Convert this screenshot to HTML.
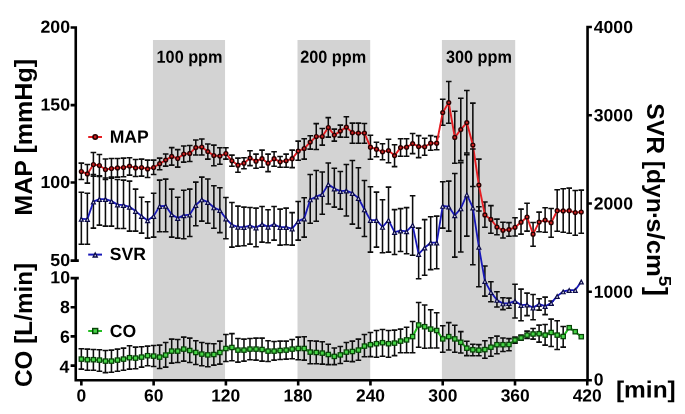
<!DOCTYPE html>
<html><head><meta charset="utf-8"><title>MAP, SVR and CO over time</title>
<style>
html,body{margin:0;padding:0;background:#fff;}
svg{display:block;will-change:transform;}
text{font-family:"Liberation Sans",sans-serif;font-weight:bold;fill:#000;}
</style></head>
<body>
<svg width="685" height="414" viewBox="0 0 685 414">
<rect width="685" height="414" fill="#fff"/>
<rect x="152.95" y="40" width="72.10" height="340.30" fill="#d3d3d3"/>
<rect x="297.50" y="40" width="72.70" height="340.30" fill="#d3d3d3"/>
<rect x="441.90" y="40" width="73.30" height="340.30" fill="#d3d3d3"/>
<path d="M81.35 163.10V179.50M78.55 163.10H84.15M78.55 179.50H84.15M87.37 164.50V183.10M84.57 164.50H90.17M84.57 183.10H90.17M93.40 152.40V176.10M90.60 152.40H96.20M90.60 176.10H96.20M99.42 154.40V176.50M96.62 154.40H102.22M96.62 176.50H102.22M105.44 159.00V179.50M102.64 159.00H108.24M102.64 179.50H108.24M111.46 158.50V178.10M108.66 158.50H114.26M108.66 178.10H114.26M117.49 158.50V177.10M114.69 158.50H120.29M114.69 177.10H120.29M123.51 158.10V176.70M120.71 158.10H126.31M120.71 176.70H126.31M129.53 157.70V175.10M126.73 157.70H132.33M126.73 175.10H132.33M135.56 159.50V176.50M132.76 159.50H138.36M132.76 176.50H138.36M141.58 159.10V176.10M138.78 159.10H144.38M138.78 176.10H144.38M147.60 160.10V177.50M144.80 160.10H150.40M144.80 177.50H150.40M153.63 160.10V174.50M150.83 160.10H156.43M150.83 174.50H156.43M159.65 158.10V169.70M156.85 158.10H162.45M156.85 169.70H162.45M165.67 154.00V166.10M162.87 154.00H168.47M162.87 166.10H168.47M171.69 147.60V165.10M168.89 147.60H174.50M168.89 165.10H174.50M177.72 149.60V167.10M174.92 149.60H180.52M174.92 167.10H180.52M183.74 146.00V162.10M180.94 146.00H186.54M180.94 162.10H186.54M189.76 145.40V161.50M186.96 145.40H192.56M186.96 161.50H192.56M195.79 140.00V155.00M192.99 140.00H198.59M192.99 155.00H198.59M201.81 139.00V155.00M199.01 139.00H204.61M199.01 155.00H204.61M207.83 144.00V159.10M205.03 144.00H210.63M205.03 159.10H210.63M213.86 145.10V165.80M211.06 145.10H216.66M211.06 165.80H216.66M219.88 147.70V164.20M217.08 147.70H222.68M217.08 164.20H222.68M225.90 147.70V159.10M223.10 147.70H228.70M223.10 159.10H228.70M231.92 155.10V166.20M229.12 155.10H234.72M229.12 166.20H234.72M237.95 158.10V172.20M235.15 158.10H240.75M235.15 172.20H240.75M243.97 157.70V168.80M241.17 157.70H246.77M241.17 168.80H246.77M249.99 150.70V165.60M247.19 150.70H252.79M247.19 165.60H252.79M256.02 154.10V168.20M253.22 154.10H258.82M253.22 168.20H258.82M262.04 150.10V167.20M259.24 150.10H264.84M259.24 167.20H264.84M268.06 154.10V171.60M265.26 154.10H270.86M265.26 171.60H270.86M274.09 151.70V166.20M271.29 151.70H276.89M271.29 166.20H276.89M280.11 156.50V167.20M277.31 156.50H282.91M277.31 167.20H282.91M286.13 154.10V167.20M283.33 154.10H288.93M283.33 167.20H288.93M292.15 150.10V167.60M289.35 150.10H294.95M289.35 167.60H294.95M298.18 141.10V160.20M295.38 141.10H300.98M295.38 160.20H300.98M304.20 138.70V159.10M301.40 138.70H307.00M301.40 159.10H307.00M310.22 135.70V149.10M307.42 135.70H313.02M307.42 149.10H313.02M316.25 123.60V149.50M313.45 123.60H319.05M313.45 149.50H319.05M322.27 128.50V145.10M319.47 128.50H325.07M319.47 145.10H325.07M328.29 117.60V137.10M325.49 117.60H331.09M325.49 137.10H331.09M334.32 129.10V141.10M331.52 129.10H337.12M331.52 141.10H337.12M340.34 125.10V137.10M337.54 125.10H343.14M337.54 137.10H343.14M346.36 116.70V137.20M343.56 116.70H349.16M343.56 137.20H349.16M352.38 123.10V143.20M349.58 123.10H355.19M349.58 143.20H355.19M358.41 123.10V143.20M355.61 123.10H361.21M355.61 143.20H361.21M364.43 123.50V143.20M361.63 123.50H367.23M361.63 143.20H367.23M370.45 135.20V159.20M367.65 135.20H373.25M367.65 159.20H373.25M376.48 142.20V156.80M373.68 142.20H379.28M373.68 156.80H379.28M382.50 143.80V159.80M379.70 143.80H385.30M379.70 159.80H385.30M388.52 139.20V162.80M385.72 139.20H391.32M385.72 162.80H391.32M394.55 144.80V166.60M391.75 144.80H397.35M391.75 166.60H397.35M400.57 138.80V156.20M397.77 138.80H403.37M397.77 156.20H403.37M406.59 138.80V156.20M403.79 138.80H409.39M403.79 156.20H409.39M412.62 133.50V153.60M409.81 133.50H415.42M409.81 153.60H415.42M418.64 135.60V157.60M415.84 135.60H421.44M415.84 157.60H421.44M424.66 138.20V155.20M421.86 138.20H427.46M421.86 155.20H427.46M430.68 135.60V150.20M427.88 135.60H433.48M427.88 150.20H433.48M436.71 136.60V149.80M433.91 136.60H439.51M433.91 149.80H439.51M442.73 99.20V125.20M439.93 99.20H445.53M439.93 125.20H445.53M448.75 81.50V123.20M445.95 81.50H451.55M445.95 123.20H451.55M454.78 111.20V163.30M451.98 111.20H457.58M451.98 163.30H457.58M460.80 98.30V160.60M458.00 98.30H463.60M458.00 160.60H463.60M466.82 90.50V153.00M464.02 90.50H469.62M464.02 153.00H469.62M472.85 103.10V186.50M470.05 103.10H475.65M470.05 186.50H475.65M478.87 159.10V211.00M476.07 159.10H481.67M476.07 211.00H481.67M484.89 202.00V227.30M482.09 202.00H487.69M482.09 227.30H487.69M490.91 205.60V233.20M488.11 205.60H493.71M488.11 233.20H493.71M496.94 219.10V234.70M494.14 219.10H499.74M494.14 234.70H499.74M502.96 222.20V238.00M500.16 222.20H505.76M500.16 238.00H505.76M508.98 222.60V236.20M506.18 222.60H511.78M506.18 236.20H511.78M515.01 217.70V236.00M512.21 217.70H517.81M512.21 236.00H517.81M521.03 209.10V234.10M518.23 209.10H523.83M518.23 234.10H523.83M527.05 203.20V231.10M524.25 203.20H529.85M524.25 231.10H529.85M533.07 222.50V246.20M530.27 222.50H535.87M530.27 246.20H535.87M539.10 212.10V231.80M536.30 212.10H541.90M536.30 231.80H541.90M545.12 207.70V232.20M542.32 207.70H547.92M542.32 232.20H547.92M551.14 208.50V237.20M548.34 208.50H553.94M548.34 237.20H553.94M557.17 189.70V231.20M554.37 189.70H559.97M554.37 231.20H559.97M563.19 188.80V232.20M560.39 188.80H565.99M560.39 232.20H565.99M569.21 188.10V233.20M566.41 188.10H572.01M566.41 233.20H572.01M575.24 190.50V235.20M572.44 190.50H578.04M572.44 235.20H578.04M581.26 190.10V233.20M578.46 190.10H584.06M578.46 233.20H584.06" stroke="#0c0c0c" stroke-width="1.55" fill="none"/>
<polyline points="81.35,171.50 87.37,173.90 93.40,164.50 99.42,165.50 105.44,169.50 111.46,168.50 117.49,167.90 123.51,167.50 129.53,166.10 135.56,167.90 141.58,167.50 147.60,168.90 153.63,167.50 159.65,163.70 165.67,160.10 171.69,156.40 177.72,158.50 183.74,154.00 189.76,153.40 195.79,147.60 201.81,147.00 207.83,151.60 213.86,155.50 219.88,156.10 225.90,153.50 231.92,160.80 237.95,165.20 243.97,163.20 249.99,158.10 256.02,161.20 262.04,158.70 268.06,163.20 274.09,158.70 280.11,161.80 286.13,160.80 292.15,158.70 298.18,151.10 304.20,148.50 310.22,142.10 316.25,136.50 322.27,136.50 328.29,127.50 334.32,135.10 340.34,131.10 346.36,127.10 352.38,132.70 358.41,133.10 364.43,133.10 370.45,147.20 376.48,149.20 382.50,151.80 388.52,150.60 394.55,155.60 400.57,147.60 406.59,147.20 412.62,143.60 418.64,146.60 424.66,146.80 430.68,143.20 436.71,143.20 442.73,112.60 448.75,102.60 454.78,137.40 460.80,129.60 466.82,122.60 472.85,145.00 478.87,185.10 484.89,214.90 490.91,219.40 496.94,227.00 502.96,230.30 508.98,229.60 515.01,227.30 521.03,222.20 527.05,217.00 533.07,234.20 539.10,222.10 545.12,220.10 551.14,222.70 557.17,210.70 563.19,210.90 569.21,210.70 575.24,212.60 581.26,212.00" stroke="#e61e23" stroke-width="1.9" fill="none" stroke-linejoin="round"/>
<circle cx="81.35" cy="171.50" r="1.9" fill="#cf2020" stroke="#280000" stroke-width="1.4"/>
<circle cx="87.37" cy="173.90" r="1.9" fill="#cf2020" stroke="#280000" stroke-width="1.4"/>
<circle cx="93.40" cy="164.50" r="1.9" fill="#cf2020" stroke="#280000" stroke-width="1.4"/>
<circle cx="99.42" cy="165.50" r="1.9" fill="#cf2020" stroke="#280000" stroke-width="1.4"/>
<circle cx="105.44" cy="169.50" r="1.9" fill="#cf2020" stroke="#280000" stroke-width="1.4"/>
<circle cx="111.46" cy="168.50" r="1.9" fill="#cf2020" stroke="#280000" stroke-width="1.4"/>
<circle cx="117.49" cy="167.90" r="1.9" fill="#cf2020" stroke="#280000" stroke-width="1.4"/>
<circle cx="123.51" cy="167.50" r="1.9" fill="#cf2020" stroke="#280000" stroke-width="1.4"/>
<circle cx="129.53" cy="166.10" r="1.9" fill="#cf2020" stroke="#280000" stroke-width="1.4"/>
<circle cx="135.56" cy="167.90" r="1.9" fill="#cf2020" stroke="#280000" stroke-width="1.4"/>
<circle cx="141.58" cy="167.50" r="1.9" fill="#cf2020" stroke="#280000" stroke-width="1.4"/>
<circle cx="147.60" cy="168.90" r="1.9" fill="#cf2020" stroke="#280000" stroke-width="1.4"/>
<circle cx="153.63" cy="167.50" r="1.9" fill="#cf2020" stroke="#280000" stroke-width="1.4"/>
<circle cx="159.65" cy="163.70" r="1.9" fill="#cf2020" stroke="#280000" stroke-width="1.4"/>
<circle cx="165.67" cy="160.10" r="1.9" fill="#cf2020" stroke="#280000" stroke-width="1.4"/>
<circle cx="171.69" cy="156.40" r="1.9" fill="#cf2020" stroke="#280000" stroke-width="1.4"/>
<circle cx="177.72" cy="158.50" r="1.9" fill="#cf2020" stroke="#280000" stroke-width="1.4"/>
<circle cx="183.74" cy="154.00" r="1.9" fill="#cf2020" stroke="#280000" stroke-width="1.4"/>
<circle cx="189.76" cy="153.40" r="1.9" fill="#cf2020" stroke="#280000" stroke-width="1.4"/>
<circle cx="195.79" cy="147.60" r="1.9" fill="#cf2020" stroke="#280000" stroke-width="1.4"/>
<circle cx="201.81" cy="147.00" r="1.9" fill="#cf2020" stroke="#280000" stroke-width="1.4"/>
<circle cx="207.83" cy="151.60" r="1.9" fill="#cf2020" stroke="#280000" stroke-width="1.4"/>
<circle cx="213.86" cy="155.50" r="1.9" fill="#cf2020" stroke="#280000" stroke-width="1.4"/>
<circle cx="219.88" cy="156.10" r="1.9" fill="#cf2020" stroke="#280000" stroke-width="1.4"/>
<circle cx="225.90" cy="153.50" r="1.9" fill="#cf2020" stroke="#280000" stroke-width="1.4"/>
<circle cx="231.92" cy="160.80" r="1.9" fill="#cf2020" stroke="#280000" stroke-width="1.4"/>
<circle cx="237.95" cy="165.20" r="1.9" fill="#cf2020" stroke="#280000" stroke-width="1.4"/>
<circle cx="243.97" cy="163.20" r="1.9" fill="#cf2020" stroke="#280000" stroke-width="1.4"/>
<circle cx="249.99" cy="158.10" r="1.9" fill="#cf2020" stroke="#280000" stroke-width="1.4"/>
<circle cx="256.02" cy="161.20" r="1.9" fill="#cf2020" stroke="#280000" stroke-width="1.4"/>
<circle cx="262.04" cy="158.70" r="1.9" fill="#cf2020" stroke="#280000" stroke-width="1.4"/>
<circle cx="268.06" cy="163.20" r="1.9" fill="#cf2020" stroke="#280000" stroke-width="1.4"/>
<circle cx="274.09" cy="158.70" r="1.9" fill="#cf2020" stroke="#280000" stroke-width="1.4"/>
<circle cx="280.11" cy="161.80" r="1.9" fill="#cf2020" stroke="#280000" stroke-width="1.4"/>
<circle cx="286.13" cy="160.80" r="1.9" fill="#cf2020" stroke="#280000" stroke-width="1.4"/>
<circle cx="292.15" cy="158.70" r="1.9" fill="#cf2020" stroke="#280000" stroke-width="1.4"/>
<circle cx="298.18" cy="151.10" r="1.9" fill="#cf2020" stroke="#280000" stroke-width="1.4"/>
<circle cx="304.20" cy="148.50" r="1.9" fill="#cf2020" stroke="#280000" stroke-width="1.4"/>
<circle cx="310.22" cy="142.10" r="1.9" fill="#cf2020" stroke="#280000" stroke-width="1.4"/>
<circle cx="316.25" cy="136.50" r="1.9" fill="#cf2020" stroke="#280000" stroke-width="1.4"/>
<circle cx="322.27" cy="136.50" r="1.9" fill="#cf2020" stroke="#280000" stroke-width="1.4"/>
<circle cx="328.29" cy="127.50" r="1.9" fill="#cf2020" stroke="#280000" stroke-width="1.4"/>
<circle cx="334.32" cy="135.10" r="1.9" fill="#cf2020" stroke="#280000" stroke-width="1.4"/>
<circle cx="340.34" cy="131.10" r="1.9" fill="#cf2020" stroke="#280000" stroke-width="1.4"/>
<circle cx="346.36" cy="127.10" r="1.9" fill="#cf2020" stroke="#280000" stroke-width="1.4"/>
<circle cx="352.38" cy="132.70" r="1.9" fill="#cf2020" stroke="#280000" stroke-width="1.4"/>
<circle cx="358.41" cy="133.10" r="1.9" fill="#cf2020" stroke="#280000" stroke-width="1.4"/>
<circle cx="364.43" cy="133.10" r="1.9" fill="#cf2020" stroke="#280000" stroke-width="1.4"/>
<circle cx="370.45" cy="147.20" r="1.9" fill="#cf2020" stroke="#280000" stroke-width="1.4"/>
<circle cx="376.48" cy="149.20" r="1.9" fill="#cf2020" stroke="#280000" stroke-width="1.4"/>
<circle cx="382.50" cy="151.80" r="1.9" fill="#cf2020" stroke="#280000" stroke-width="1.4"/>
<circle cx="388.52" cy="150.60" r="1.9" fill="#cf2020" stroke="#280000" stroke-width="1.4"/>
<circle cx="394.55" cy="155.60" r="1.9" fill="#cf2020" stroke="#280000" stroke-width="1.4"/>
<circle cx="400.57" cy="147.60" r="1.9" fill="#cf2020" stroke="#280000" stroke-width="1.4"/>
<circle cx="406.59" cy="147.20" r="1.9" fill="#cf2020" stroke="#280000" stroke-width="1.4"/>
<circle cx="412.62" cy="143.60" r="1.9" fill="#cf2020" stroke="#280000" stroke-width="1.4"/>
<circle cx="418.64" cy="146.60" r="1.9" fill="#cf2020" stroke="#280000" stroke-width="1.4"/>
<circle cx="424.66" cy="146.80" r="1.9" fill="#cf2020" stroke="#280000" stroke-width="1.4"/>
<circle cx="430.68" cy="143.20" r="1.9" fill="#cf2020" stroke="#280000" stroke-width="1.4"/>
<circle cx="436.71" cy="143.20" r="1.9" fill="#cf2020" stroke="#280000" stroke-width="1.4"/>
<circle cx="442.73" cy="112.60" r="1.9" fill="#cf2020" stroke="#280000" stroke-width="1.4"/>
<circle cx="448.75" cy="102.60" r="1.9" fill="#cf2020" stroke="#280000" stroke-width="1.4"/>
<circle cx="454.78" cy="137.40" r="1.9" fill="#cf2020" stroke="#280000" stroke-width="1.4"/>
<circle cx="460.80" cy="129.60" r="1.9" fill="#cf2020" stroke="#280000" stroke-width="1.4"/>
<circle cx="466.82" cy="122.60" r="1.9" fill="#cf2020" stroke="#280000" stroke-width="1.4"/>
<circle cx="472.85" cy="145.00" r="1.9" fill="#cf2020" stroke="#280000" stroke-width="1.4"/>
<circle cx="478.87" cy="185.10" r="1.9" fill="#cf2020" stroke="#280000" stroke-width="1.4"/>
<circle cx="484.89" cy="214.90" r="1.9" fill="#cf2020" stroke="#280000" stroke-width="1.4"/>
<circle cx="490.91" cy="219.40" r="1.9" fill="#cf2020" stroke="#280000" stroke-width="1.4"/>
<circle cx="496.94" cy="227.00" r="1.9" fill="#cf2020" stroke="#280000" stroke-width="1.4"/>
<circle cx="502.96" cy="230.30" r="1.9" fill="#cf2020" stroke="#280000" stroke-width="1.4"/>
<circle cx="508.98" cy="229.60" r="1.9" fill="#cf2020" stroke="#280000" stroke-width="1.4"/>
<circle cx="515.01" cy="227.30" r="1.9" fill="#cf2020" stroke="#280000" stroke-width="1.4"/>
<circle cx="521.03" cy="222.20" r="1.9" fill="#cf2020" stroke="#280000" stroke-width="1.4"/>
<circle cx="527.05" cy="217.00" r="1.9" fill="#cf2020" stroke="#280000" stroke-width="1.4"/>
<circle cx="533.07" cy="234.20" r="1.9" fill="#cf2020" stroke="#280000" stroke-width="1.4"/>
<circle cx="539.10" cy="222.10" r="1.9" fill="#cf2020" stroke="#280000" stroke-width="1.4"/>
<circle cx="545.12" cy="220.10" r="1.9" fill="#cf2020" stroke="#280000" stroke-width="1.4"/>
<circle cx="551.14" cy="222.70" r="1.9" fill="#cf2020" stroke="#280000" stroke-width="1.4"/>
<circle cx="557.17" cy="210.70" r="1.9" fill="#cf2020" stroke="#280000" stroke-width="1.4"/>
<circle cx="563.19" cy="210.90" r="1.9" fill="#cf2020" stroke="#280000" stroke-width="1.4"/>
<circle cx="569.21" cy="210.70" r="1.9" fill="#cf2020" stroke="#280000" stroke-width="1.4"/>
<circle cx="575.24" cy="212.60" r="1.9" fill="#cf2020" stroke="#280000" stroke-width="1.4"/>
<circle cx="581.26" cy="212.00" r="1.9" fill="#cf2020" stroke="#280000" stroke-width="1.4"/>
<path d="M81.35 192.30V244.20M78.55 192.30H84.15M78.55 244.20H84.15M87.37 193.20V244.20M84.57 193.20H90.17M84.57 244.20H90.17M93.40 174.50V228.10M90.60 174.50H96.20M90.60 228.10H96.20M99.42 175.70V225.10M96.62 175.70H102.22M96.62 225.10H102.22M105.44 178.00V226.10M102.64 178.00H108.24M102.64 226.10H108.24M111.46 177.10V226.10M108.66 177.10H114.26M108.66 226.10H114.26M117.49 179.50V228.50M114.69 179.50H120.29M114.69 228.50H120.29M123.51 180.10V228.50M120.71 180.10H126.31M120.71 228.50H126.31M129.53 181.10V231.10M126.73 181.10H132.33M126.73 231.10H132.33M135.56 189.10V231.10M132.76 189.10H138.36M132.76 231.10H138.36M141.58 197.20V233.10M138.78 197.20H144.38M138.78 233.10H144.38M147.60 201.80V238.10M144.80 201.80H150.40M144.80 238.10H150.40M153.63 193.20V237.10M150.83 193.20H156.43M150.83 237.10H156.43M159.65 180.10V231.70M156.85 180.10H162.45M156.85 231.70H162.45M165.67 179.10V231.70M162.87 179.10H168.47M162.87 231.70H168.47M171.69 189.10V237.10M168.89 189.10H174.50M168.89 237.10H174.50M177.72 197.20V238.10M174.92 197.20H180.52M174.92 238.10H180.52M183.74 190.20V238.70M180.94 190.20H186.54M180.94 238.70H186.54M189.76 189.10V236.50M186.96 189.10H192.56M186.96 236.50H192.56M195.79 182.10V225.70M192.99 182.10H198.59M192.99 225.70H198.59M201.81 177.10V221.10M199.01 177.10H204.61M199.01 221.10H204.61M207.83 179.00V223.20M205.03 179.00H210.63M205.03 223.20H210.63M213.86 185.70V228.20M211.06 185.70H216.66M211.06 228.20H216.66M219.88 187.70V232.60M217.08 187.70H222.68M217.08 232.60H222.68M225.90 197.50V238.70M223.10 197.50H228.70M223.10 238.70H228.70M231.92 202.50V247.10M229.12 202.50H234.72M229.12 247.10H234.72M237.95 206.10V246.10M235.15 206.10H240.75M235.15 246.10H240.75M243.97 207.10V245.70M241.17 207.10H246.77M241.17 245.70H246.77M249.99 207.50V244.10M247.19 207.50H252.79M247.19 244.10H252.79M256.02 208.10V246.70M253.22 208.10H258.82M253.22 246.70H258.82M262.04 206.50V242.10M259.24 206.50H264.84M259.24 242.10H264.84M268.06 209.70V242.70M265.26 209.70H270.86M265.26 242.70H270.86M274.09 206.50V240.10M271.29 206.50H276.89M271.29 240.10H276.89M280.11 209.10V245.10M277.31 209.10H282.91M277.31 245.10H282.91M286.13 208.10V244.70M283.33 208.10H288.93M283.33 244.70H288.93M292.15 212.60V245.10M289.35 212.60H294.95M289.35 245.10H294.95M298.18 201.50V240.10M295.38 201.50H300.98M295.38 240.10H300.98M304.20 197.70V237.10M301.40 197.70H307.00M301.40 237.10H307.00M310.22 174.40V223.20M307.42 174.40H313.02M307.42 223.20H313.02M316.25 170.40V221.20M313.45 170.40H319.05M313.45 221.20H319.05M322.27 172.00V214.20M319.47 172.00H325.07M319.47 214.20H325.07M328.29 163.00V204.00M325.49 163.00H331.09M325.49 204.00H331.09M334.32 168.20V207.10M331.52 168.20H337.12M331.52 207.10H337.12M340.34 171.50V209.10M337.54 171.50H343.14M337.54 209.10H343.14M346.36 164.40V216.00M343.56 164.40H349.16M343.56 216.00H349.16M352.38 160.40V224.10M349.58 160.40H355.19M349.58 224.10H355.19M358.41 167.70V228.10M355.61 167.70H361.21M355.61 228.10H361.21M364.43 180.50V236.50M361.63 180.50H367.23M361.63 236.50H367.23M370.45 186.70V252.10M367.65 186.70H373.25M367.65 252.10H373.25M376.48 192.10V247.10M373.68 192.10H379.28M373.68 247.10H379.28M382.50 199.70V252.70M379.70 199.70H385.30M379.70 252.70H385.30M388.52 187.10V252.10M385.72 187.10H391.32M385.72 252.10H391.32M394.55 209.60V254.50M391.75 209.60H397.35M391.75 254.50H397.35M400.57 208.60V251.50M397.77 208.60H403.37M397.77 251.50H403.37M406.59 207.60V253.70M403.79 207.60H409.39M403.79 253.70H409.39M412.62 195.70V255.20M409.81 195.70H415.42M409.81 255.20H415.42M418.64 228.10V278.80M415.84 228.10H421.44M415.84 278.80H421.44M424.66 219.60V275.20M421.86 219.60H427.46M421.86 275.20H427.46M430.68 216.70V269.60M427.88 216.70H433.48M427.88 269.60H433.48M436.71 216.10V268.80M433.91 216.10H439.51M433.91 268.80H439.51M442.73 181.70V228.10M439.93 181.70H445.53M439.93 228.10H445.53M448.75 181.10V231.10M445.95 181.10H451.55M445.95 231.10H451.55M454.78 173.50V257.10M451.98 173.50H457.58M451.98 257.10H457.58M460.80 162.60V252.00M458.00 162.60H463.60M458.00 252.00H463.60M466.82 154.60V236.10M464.02 154.60H469.62M464.02 236.10H469.62M472.85 149.00V264.80M470.05 149.00H475.65M470.05 264.80H475.65M478.87 206.70V286.80M476.07 206.70H481.67M476.07 286.80H481.67M484.89 265.90V296.10M482.09 265.90H487.69M482.09 296.10H487.69M490.91 281.70V301.70M488.11 281.70H493.71M488.11 301.70H493.71M496.94 291.70V307.00M494.14 291.70H499.74M494.14 307.00H499.74M502.96 297.70V309.60M500.16 297.70H505.76M500.16 309.60H505.76M508.98 298.10V308.30M506.18 298.10H511.78M506.18 308.30H511.78M515.01 284.20V318.00M512.21 284.20H517.81M512.21 318.00H517.81M521.03 289.10V320.80M518.23 289.10H523.83M518.23 320.80H523.83M527.05 293.10V315.60M524.25 293.10H529.85M524.25 315.60H529.85M533.07 294.50V319.80M530.27 294.50H535.87M530.27 319.80H535.87M539.10 298.70V310.10M536.30 298.70H541.90M536.30 310.10H541.90M545.12 297.10V314.60M542.32 297.10H547.92M542.32 314.60H547.92M551.14 301.00V305.20M548.34 301.00H553.94M548.34 305.20H553.94" stroke="#0c0c0c" stroke-width="1.55" fill="none"/>
<polyline points="81.35,218.90 87.37,219.10 93.40,201.70 99.42,199.10 105.44,199.20 111.46,201.10 117.49,204.60 123.51,205.10 129.53,206.80 135.56,211.10 141.58,216.10 147.60,220.40 153.63,216.10 159.65,206.10 165.67,205.90 171.69,214.40 177.72,218.10 183.74,215.40 189.76,214.60 195.79,205.10 201.81,199.50 207.83,202.10 213.86,207.50 219.88,210.20 225.90,218.60 231.92,224.80 237.95,226.80 243.97,227.20 249.99,225.60 256.02,227.60 262.04,224.20 268.06,226.80 274.09,224.20 280.11,227.20 286.13,227.20 292.15,228.60 298.18,221.20 304.20,218.60 310.22,199.50 316.25,196.70 322.27,194.10 328.29,184.30 334.32,188.60 340.34,191.10 346.36,190.70 352.38,193.10 358.41,198.10 364.43,209.50 370.45,220.10 376.48,220.10 382.50,227.00 388.52,220.10 394.55,232.20 400.57,230.70 406.59,231.40 412.62,225.10 418.64,254.10 424.66,247.70 430.68,242.70 436.71,242.70 442.73,206.00 448.75,206.70 454.78,215.40 460.80,208.50 466.82,194.60 472.85,207.70 478.87,246.90 484.89,281.10 490.91,292.10 496.94,300.00 502.96,303.50 508.98,303.20 515.01,301.10 521.03,305.10 527.05,304.70 533.07,307.60 539.10,304.10 545.12,306.20 551.14,303.10 557.17,296.10 563.19,291.50 569.21,290.10 575.24,290.10 581.26,281.70" stroke="#1818b8" stroke-width="1.8" fill="none" stroke-linejoin="round"/>
<path d="M81.35 216.05L84.30 221.75H78.40Z" fill="#0a0a46"/><path d="M81.35 218.66L82.33 220.55H80.37Z" fill="#e6e6fa"/>
<path d="M87.37 216.25L90.32 221.95H84.42Z" fill="#0a0a46"/><path d="M87.37 218.86L88.35 220.75H86.40Z" fill="#e6e6fa"/>
<path d="M93.40 198.85L96.35 204.55H90.45Z" fill="#0a0a46"/><path d="M93.40 201.46L94.37 203.35H92.42Z" fill="#e6e6fa"/>
<path d="M99.42 196.25L102.37 201.95H96.47Z" fill="#0a0a46"/><path d="M99.42 198.86L100.40 200.75H98.44Z" fill="#e6e6fa"/>
<path d="M105.44 196.35L108.39 202.05H102.49Z" fill="#0a0a46"/><path d="M105.44 198.96L106.42 200.85H104.46Z" fill="#e6e6fa"/>
<path d="M111.46 198.25L114.41 203.95H108.51Z" fill="#0a0a46"/><path d="M111.46 200.86L112.44 202.75H110.49Z" fill="#e6e6fa"/>
<path d="M117.49 201.75L120.44 207.45H114.54Z" fill="#0a0a46"/><path d="M117.49 204.36L118.47 206.25H116.51Z" fill="#e6e6fa"/>
<path d="M123.51 202.25L126.46 207.95H120.56Z" fill="#0a0a46"/><path d="M123.51 204.86L124.49 206.75H122.53Z" fill="#e6e6fa"/>
<path d="M129.53 203.95L132.48 209.65H126.58Z" fill="#0a0a46"/><path d="M129.53 206.56L130.51 208.45H128.56Z" fill="#e6e6fa"/>
<path d="M135.56 208.25L138.51 213.95H132.61Z" fill="#0a0a46"/><path d="M135.56 210.86L136.53 212.75H134.58Z" fill="#e6e6fa"/>
<path d="M141.58 213.25L144.53 218.95H138.63Z" fill="#0a0a46"/><path d="M141.58 215.86L142.56 217.75H140.60Z" fill="#e6e6fa"/>
<path d="M147.60 217.55L150.55 223.25H144.65Z" fill="#0a0a46"/><path d="M147.60 220.16L148.58 222.05H146.63Z" fill="#e6e6fa"/>
<path d="M153.63 213.25L156.58 218.95H150.68Z" fill="#0a0a46"/><path d="M153.63 215.86L154.60 217.75H152.65Z" fill="#e6e6fa"/>
<path d="M159.65 203.25L162.60 208.95H156.70Z" fill="#0a0a46"/><path d="M159.65 205.86L160.63 207.75H158.67Z" fill="#e6e6fa"/>
<path d="M165.67 203.05L168.62 208.75H162.72Z" fill="#0a0a46"/><path d="M165.67 205.66L166.65 207.55H164.69Z" fill="#e6e6fa"/>
<path d="M171.69 211.55L174.64 217.25H168.75Z" fill="#0a0a46"/><path d="M171.69 214.16L172.67 216.05H170.72Z" fill="#e6e6fa"/>
<path d="M177.72 215.25L180.67 220.95H174.77Z" fill="#0a0a46"/><path d="M177.72 217.86L178.70 219.75H176.74Z" fill="#e6e6fa"/>
<path d="M183.74 212.55L186.69 218.25H180.79Z" fill="#0a0a46"/><path d="M183.74 215.16L184.72 217.05H182.76Z" fill="#e6e6fa"/>
<path d="M189.76 211.75L192.71 217.45H186.81Z" fill="#0a0a46"/><path d="M189.76 214.36L190.74 216.25H188.79Z" fill="#e6e6fa"/>
<path d="M195.79 202.25L198.74 207.95H192.84Z" fill="#0a0a46"/><path d="M195.79 204.86L196.76 206.75H194.81Z" fill="#e6e6fa"/>
<path d="M201.81 196.65L204.76 202.35H198.86Z" fill="#0a0a46"/><path d="M201.81 199.26L202.79 201.15H200.83Z" fill="#e6e6fa"/>
<path d="M207.83 199.25L210.78 204.95H204.88Z" fill="#0a0a46"/><path d="M207.83 201.86L208.81 203.75H206.86Z" fill="#e6e6fa"/>
<path d="M213.86 204.65L216.81 210.35H210.91Z" fill="#0a0a46"/><path d="M213.86 207.26L214.83 209.15H212.88Z" fill="#e6e6fa"/>
<path d="M219.88 207.35L222.83 213.05H216.93Z" fill="#0a0a46"/><path d="M219.88 209.96L220.86 211.85H218.90Z" fill="#e6e6fa"/>
<path d="M225.90 215.75L228.85 221.45H222.95Z" fill="#0a0a46"/><path d="M225.90 218.36L226.88 220.25H224.92Z" fill="#e6e6fa"/>
<path d="M231.92 221.95L234.87 227.65H228.97Z" fill="#0a0a46"/><path d="M231.92 224.56L232.90 226.45H230.95Z" fill="#e6e6fa"/>
<path d="M237.95 223.95L240.90 229.65H235.00Z" fill="#0a0a46"/><path d="M237.95 226.56L238.93 228.45H236.97Z" fill="#e6e6fa"/>
<path d="M243.97 224.35L246.92 230.05H241.02Z" fill="#0a0a46"/><path d="M243.97 226.96L244.95 228.85H242.99Z" fill="#e6e6fa"/>
<path d="M249.99 222.75L252.94 228.45H247.04Z" fill="#0a0a46"/><path d="M249.99 225.36L250.97 227.25H249.02Z" fill="#e6e6fa"/>
<path d="M256.02 224.75L258.97 230.45H253.07Z" fill="#0a0a46"/><path d="M256.02 227.36L256.99 229.25H255.04Z" fill="#e6e6fa"/>
<path d="M262.04 221.35L264.99 227.05H259.09Z" fill="#0a0a46"/><path d="M262.04 223.96L263.02 225.85H261.06Z" fill="#e6e6fa"/>
<path d="M268.06 223.95L271.01 229.65H265.11Z" fill="#0a0a46"/><path d="M268.06 226.56L269.04 228.45H267.09Z" fill="#e6e6fa"/>
<path d="M274.09 221.35L277.04 227.05H271.14Z" fill="#0a0a46"/><path d="M274.09 223.96L275.06 225.85H273.11Z" fill="#e6e6fa"/>
<path d="M280.11 224.35L283.06 230.05H277.16Z" fill="#0a0a46"/><path d="M280.11 226.96L281.09 228.85H279.13Z" fill="#e6e6fa"/>
<path d="M286.13 224.35L289.08 230.05H283.18Z" fill="#0a0a46"/><path d="M286.13 226.96L287.11 228.85H285.15Z" fill="#e6e6fa"/>
<path d="M292.15 225.75L295.10 231.45H289.20Z" fill="#0a0a46"/><path d="M292.15 228.36L293.13 230.25H291.18Z" fill="#e6e6fa"/>
<path d="M298.18 218.35L301.13 224.05H295.23Z" fill="#0a0a46"/><path d="M298.18 220.96L299.16 222.85H297.20Z" fill="#e6e6fa"/>
<path d="M304.20 215.75L307.15 221.45H301.25Z" fill="#0a0a46"/><path d="M304.20 218.36L305.18 220.25H303.22Z" fill="#e6e6fa"/>
<path d="M310.22 196.65L313.17 202.35H307.27Z" fill="#0a0a46"/><path d="M310.22 199.26L311.20 201.15H309.25Z" fill="#e6e6fa"/>
<path d="M316.25 193.85L319.20 199.55H313.30Z" fill="#0a0a46"/><path d="M316.25 196.46L317.22 198.35H315.27Z" fill="#e6e6fa"/>
<path d="M322.27 191.25L325.22 196.95H319.32Z" fill="#0a0a46"/><path d="M322.27 193.86L323.25 195.75H321.29Z" fill="#e6e6fa"/>
<path d="M328.29 181.45L331.24 187.15H325.34Z" fill="#0a0a46"/><path d="M328.29 184.06L329.27 185.95H327.32Z" fill="#e6e6fa"/>
<path d="M334.32 185.75L337.27 191.45H331.37Z" fill="#0a0a46"/><path d="M334.32 188.36L335.29 190.25H333.34Z" fill="#e6e6fa"/>
<path d="M340.34 188.25L343.29 193.95H337.39Z" fill="#0a0a46"/><path d="M340.34 190.86L341.32 192.75H339.36Z" fill="#e6e6fa"/>
<path d="M346.36 187.85L349.31 193.55H343.41Z" fill="#0a0a46"/><path d="M346.36 190.46L347.34 192.35H345.38Z" fill="#e6e6fa"/>
<path d="M352.38 190.25L355.33 195.95H349.44Z" fill="#0a0a46"/><path d="M352.38 192.86L353.36 194.75H351.41Z" fill="#e6e6fa"/>
<path d="M358.41 195.25L361.36 200.95H355.46Z" fill="#0a0a46"/><path d="M358.41 197.86L359.39 199.75H357.43Z" fill="#e6e6fa"/>
<path d="M364.43 206.65L367.38 212.35H361.48Z" fill="#0a0a46"/><path d="M364.43 209.26L365.41 211.15H363.45Z" fill="#e6e6fa"/>
<path d="M370.45 217.25L373.40 222.95H367.50Z" fill="#0a0a46"/><path d="M370.45 219.86L371.43 221.75H369.48Z" fill="#e6e6fa"/>
<path d="M376.48 217.25L379.43 222.95H373.53Z" fill="#0a0a46"/><path d="M376.48 219.86L377.45 221.75H375.50Z" fill="#e6e6fa"/>
<path d="M382.50 224.15L385.45 229.85H379.55Z" fill="#0a0a46"/><path d="M382.50 226.76L383.48 228.65H381.52Z" fill="#e6e6fa"/>
<path d="M388.52 217.25L391.47 222.95H385.57Z" fill="#0a0a46"/><path d="M388.52 219.86L389.50 221.75H387.55Z" fill="#e6e6fa"/>
<path d="M394.55 229.35L397.50 235.05H391.60Z" fill="#0a0a46"/><path d="M394.55 231.96L395.52 233.85H393.57Z" fill="#e6e6fa"/>
<path d="M400.57 227.85L403.52 233.55H397.62Z" fill="#0a0a46"/><path d="M400.57 230.46L401.55 232.35H399.59Z" fill="#e6e6fa"/>
<path d="M406.59 228.55L409.54 234.25H403.64Z" fill="#0a0a46"/><path d="M406.59 231.16L407.57 233.05H405.61Z" fill="#e6e6fa"/>
<path d="M412.62 222.25L415.56 227.95H409.67Z" fill="#0a0a46"/><path d="M412.62 224.86L413.59 226.75H411.64Z" fill="#e6e6fa"/>
<path d="M418.64 251.25L421.59 256.95H415.69Z" fill="#0a0a46"/><path d="M418.64 253.86L419.62 255.75H417.66Z" fill="#e6e6fa"/>
<path d="M424.66 244.85L427.61 250.55H421.71Z" fill="#0a0a46"/><path d="M424.66 247.46L425.64 249.35H423.68Z" fill="#e6e6fa"/>
<path d="M430.68 239.85L433.63 245.55H427.73Z" fill="#0a0a46"/><path d="M430.68 242.46L431.66 244.35H429.71Z" fill="#e6e6fa"/>
<path d="M436.71 239.85L439.66 245.55H433.76Z" fill="#0a0a46"/><path d="M436.71 242.46L437.68 244.35H435.73Z" fill="#e6e6fa"/>
<path d="M442.73 203.15L445.68 208.85H439.78Z" fill="#0a0a46"/><path d="M442.73 205.76L443.71 207.65H441.75Z" fill="#e6e6fa"/>
<path d="M448.75 203.85L451.70 209.55H445.80Z" fill="#0a0a46"/><path d="M448.75 206.46L449.73 208.35H447.78Z" fill="#e6e6fa"/>
<path d="M454.78 212.55L457.73 218.25H451.83Z" fill="#0a0a46"/><path d="M454.78 215.16L455.75 217.05H453.80Z" fill="#e6e6fa"/>
<path d="M460.80 205.65L463.75 211.35H457.85Z" fill="#0a0a46"/><path d="M460.80 208.26L461.78 210.15H459.82Z" fill="#e6e6fa"/>
<path d="M466.82 191.75L469.77 197.45H463.87Z" fill="#0a0a46"/><path d="M466.82 194.36L467.80 196.25H465.84Z" fill="#e6e6fa"/>
<path d="M472.85 204.85L475.80 210.55H469.90Z" fill="#0a0a46"/><path d="M472.85 207.46L473.82 209.35H471.87Z" fill="#e6e6fa"/>
<path d="M478.87 244.05L481.82 249.75H475.92Z" fill="#0a0a46"/><path d="M478.87 246.66L479.85 248.55H477.89Z" fill="#e6e6fa"/>
<path d="M484.89 278.25L487.84 283.95H481.94Z" fill="#0a0a46"/><path d="M484.89 280.86L485.87 282.75H483.91Z" fill="#e6e6fa"/>
<path d="M490.91 289.25L493.86 294.95H487.96Z" fill="#0a0a46"/><path d="M490.91 291.86L491.89 293.75H489.94Z" fill="#e6e6fa"/>
<path d="M496.94 297.15L499.89 302.85H493.99Z" fill="#0a0a46"/><path d="M496.94 299.76L497.91 301.65H495.96Z" fill="#e6e6fa"/>
<path d="M502.96 300.65L505.91 306.35H500.01Z" fill="#0a0a46"/><path d="M502.96 303.26L503.94 305.15H501.98Z" fill="#e6e6fa"/>
<path d="M508.98 300.35L511.93 306.05H506.03Z" fill="#0a0a46"/><path d="M508.98 302.96L509.96 304.85H508.01Z" fill="#e6e6fa"/>
<path d="M515.01 298.25L517.96 303.95H512.06Z" fill="#0a0a46"/><path d="M515.01 300.86L515.98 302.75H514.03Z" fill="#e6e6fa"/>
<path d="M521.03 302.25L523.98 307.95H518.08Z" fill="#0a0a46"/><path d="M521.03 304.86L522.01 306.75H520.05Z" fill="#e6e6fa"/>
<path d="M527.05 301.85L530.00 307.55H524.10Z" fill="#0a0a46"/><path d="M527.05 304.46L528.03 306.35H526.07Z" fill="#e6e6fa"/>
<path d="M533.07 304.75L536.02 310.45H530.12Z" fill="#0a0a46"/><path d="M533.07 307.36L534.05 309.25H532.10Z" fill="#e6e6fa"/>
<path d="M539.10 301.25L542.05 306.95H536.15Z" fill="#0a0a46"/><path d="M539.10 303.86L540.08 305.75H538.12Z" fill="#e6e6fa"/>
<path d="M545.12 303.35L548.07 309.05H542.17Z" fill="#0a0a46"/><path d="M545.12 305.96L546.10 307.85H544.14Z" fill="#e6e6fa"/>
<path d="M551.14 300.25L554.09 305.95H548.19Z" fill="#0a0a46"/><path d="M551.14 302.86L552.12 304.75H550.17Z" fill="#e6e6fa"/>
<path d="M557.17 293.25L560.12 298.95H554.22Z" fill="#0a0a46"/><path d="M557.17 295.86L558.14 297.75H556.19Z" fill="#e6e6fa"/>
<path d="M563.19 288.65L566.14 294.35H560.24Z" fill="#0a0a46"/><path d="M563.19 291.26L564.17 293.15H562.21Z" fill="#e6e6fa"/>
<path d="M569.21 287.25L572.16 292.95H566.26Z" fill="#0a0a46"/><path d="M569.21 289.86L570.19 291.75H568.24Z" fill="#e6e6fa"/>
<path d="M575.24 287.25L578.19 292.95H572.29Z" fill="#0a0a46"/><path d="M575.24 289.86L576.21 291.75H574.26Z" fill="#e6e6fa"/>
<path d="M581.26 278.85L584.21 284.55H578.31Z" fill="#0a0a46"/><path d="M581.26 281.46L582.24 283.35H580.28Z" fill="#e6e6fa"/>
<path d="M81.35 348.70V369.10M78.55 348.70H84.15M78.55 369.10H84.15M87.37 349.10V370.20M84.57 349.10H90.17M84.57 370.20H90.17M93.40 349.50V370.20M90.60 349.50H96.20M90.60 370.20H96.20M99.42 349.70V371.20M96.62 349.70H102.22M96.62 371.20H102.22M105.44 350.50V372.60M102.64 350.50H108.24M102.64 372.60H108.24M111.46 350.10V372.20M108.66 350.10H114.26M108.66 372.20H114.26M117.49 349.10V371.20M114.69 349.10H120.29M114.69 371.20H120.29M123.51 348.10V370.20M120.71 348.10H126.31M120.71 370.20H126.31M129.53 345.70V369.10M126.73 345.70H132.33M126.73 369.10H132.33M135.56 347.10V368.70M132.76 347.10H138.36M132.76 368.70H138.36M141.58 346.70V367.10M138.78 346.70H144.38M138.78 367.10H144.38M147.60 346.10V365.70M144.80 346.10H150.40M144.80 365.70H150.40M153.63 345.50V366.50M150.83 345.50H156.43M150.83 366.50H156.43M159.65 345.10V368.50M156.85 345.10H162.45M156.85 368.50H162.45M165.67 342.50V367.10M162.87 342.50H168.47M162.87 367.10H168.47M171.69 339.10V363.10M168.89 339.10H174.50M168.89 363.10H174.50M177.72 339.50V362.50M174.92 339.50H180.52M174.92 362.50H180.52M183.74 337.10V361.10M180.94 337.10H186.54M180.94 361.10H186.54M189.76 338.10V362.50M186.96 338.10H192.56M186.96 362.50H192.56M195.79 340.70V364.50M192.99 340.70H198.59M192.99 364.50H198.59M201.81 342.50V365.70M199.01 342.50H204.61M199.01 365.70H204.61M207.83 343.40V366.80M205.03 343.40H210.63M205.03 366.80H210.63M213.86 343.70V365.10M211.06 343.70H216.66M211.06 365.10H216.66M219.88 341.10V364.10M217.08 341.10H222.68M217.08 364.10H222.68M225.90 334.40V361.50M223.10 334.40H228.70M223.10 361.50H228.70M231.92 333.60V360.70M229.12 333.60H234.72M229.12 360.70H234.72M237.95 338.50V362.10M235.15 338.50H240.75M235.15 362.10H240.75M243.97 339.10V361.10M241.17 339.10H246.77M241.17 361.10H246.77M249.99 338.50V359.70M247.19 338.50H252.79M247.19 359.70H252.79M256.02 338.10V360.10M253.22 338.10H258.82M253.22 360.10H258.82M262.04 338.10V361.10M259.24 338.10H264.84M259.24 361.10H264.84M268.06 340.70V361.50M265.26 340.70H270.86M265.26 361.50H270.86M274.09 341.50V360.10M271.29 341.50H276.89M271.29 360.10H276.89M280.11 341.10V359.50M277.31 341.10H282.91M277.31 359.50H282.91M286.13 341.10V359.10M283.33 341.10H288.93M283.33 359.10H288.93M292.15 339.50V358.70M289.35 339.50H294.95M289.35 358.70H294.95M298.18 337.10V359.70M295.38 337.10H300.98M295.38 359.70H300.98M304.20 336.70V360.10M301.40 336.70H307.00M301.40 360.10H307.00M310.22 340.70V363.70M307.42 340.70H313.02M307.42 363.70H313.02M316.25 341.10V363.70M313.45 341.10H319.05M313.45 363.70H319.05M322.27 341.70V364.10M319.47 341.70H325.07M319.47 364.10H325.07M328.29 344.30V364.60M325.49 344.30H331.09M325.49 364.60H331.09M334.32 347.90V364.60M331.52 347.90H337.12M331.52 364.60H337.12M340.34 346.40V363.50M337.54 346.40H343.14M337.54 363.50H343.14M346.36 342.50V361.20M343.56 342.50H349.16M343.56 361.20H349.16M352.38 341.10V361.60M349.58 341.10H355.19M349.58 361.60H355.19M358.41 339.10V360.20M355.61 339.10H361.21M355.61 360.20H361.21M364.43 334.50V356.80M361.63 334.50H367.23M361.63 356.80H367.23M370.45 332.50V356.60M367.65 332.50H373.25M367.65 356.60H373.25M376.48 330.50V357.20M373.68 330.50H379.28M373.68 357.20H379.28M382.50 329.50V356.20M379.70 329.50H385.30M379.70 356.20H385.30M388.52 330.50V357.20M385.72 330.50H391.32M385.72 357.20H391.32M394.55 330.10V355.60M391.75 330.10H397.35M391.75 355.60H397.35M400.57 329.10V352.70M397.77 329.10H403.37M397.77 352.70H403.37M406.59 327.30V352.70M403.79 327.30H409.39M403.79 352.70H409.39M412.62 321.40V352.70M409.81 321.40H415.42M409.81 352.70H415.42M418.64 302.40V347.20M415.84 302.40H421.44M415.84 347.20H421.44M424.66 305.00V348.20M421.86 305.00H427.46M421.86 348.20H427.46M430.68 309.80V348.00M427.88 309.80H433.48M427.88 348.00H433.48M436.71 312.70V348.00M433.91 312.70H439.51M433.91 348.00H439.51M442.73 325.70V352.20M439.93 325.70H445.53M439.93 352.20H445.53M448.75 322.60V349.90M445.95 322.60H451.55M445.95 349.90H451.55M454.78 325.30V352.20M451.98 325.30H457.58M451.98 352.20H457.58M460.80 331.60V353.00M458.00 331.60H463.60M458.00 353.00H463.60M466.82 341.20V355.60M464.02 341.20H469.62M464.02 355.60H469.62M472.85 344.20V355.80M470.05 344.20H475.65M470.05 355.80H475.65M478.87 344.60V355.80M476.07 344.60H481.67M476.07 355.80H481.67M484.89 340.80V358.20M482.09 340.80H487.69M482.09 358.20H487.69M490.91 337.70V356.20M488.11 337.70H493.71M488.11 356.20H493.71M496.94 336.10V353.80M494.14 336.10H499.74M494.14 353.80H499.74M502.96 337.90V351.40M500.16 337.90H505.76M500.16 351.40H505.76M508.98 338.60V350.70M506.18 338.60H511.78M506.18 350.70H511.78M515.01 337.10V343.10M512.21 337.10H517.81M512.21 343.10H517.81M521.03 335.10V340.10M518.23 335.10H523.83M518.23 340.10H523.83M527.05 331.10V338.50M524.25 331.10H529.85M524.25 338.50H529.85M533.07 328.50V339.10M530.27 328.50H535.87M530.27 339.10H535.87M539.10 325.10V342.10M536.30 325.10H541.90M536.30 342.10H541.90M545.12 324.50V345.10M542.32 324.50H547.92M542.32 345.10H547.92M551.14 319.10V346.50M548.34 319.10H553.94M548.34 346.50H553.94M557.17 320.70V349.50M554.37 320.70H559.97M554.37 349.50H559.97M563.19 326.50V347.10M560.39 326.50H565.99M560.39 347.10H565.99" stroke="#0c0c0c" stroke-width="1.55" fill="none"/>
<polyline points="81.35,359.10 87.37,359.70 93.40,359.70 99.42,360.10 105.44,361.10 111.46,361.10 117.49,360.10 123.51,359.10 129.53,357.70 135.56,358.10 141.58,357.10 147.60,355.70 153.63,356.10 159.65,357.10 165.67,355.10 171.69,351.10 177.72,351.10 183.74,349.10 189.76,350.50 195.79,352.50 201.81,354.10 207.83,354.90 213.86,354.50 219.88,352.50 225.90,348.50 231.92,347.50 237.95,350.10 243.97,350.10 249.99,349.10 256.02,349.10 262.04,349.50 268.06,351.10 274.09,351.10 280.11,350.50 286.13,350.10 292.15,349.10 298.18,348.50 304.20,348.50 310.22,352.10 316.25,352.50 322.27,353.10 328.29,354.50 334.32,356.40 340.34,354.90 346.36,352.10 352.38,351.50 358.41,350.10 364.43,346.10 370.45,344.70 376.48,343.70 382.50,342.70 388.52,343.70 394.55,343.10 400.57,341.10 406.59,339.90 412.62,336.60 418.64,325.00 424.66,326.70 430.68,329.10 436.71,330.50 442.73,338.90 448.75,336.60 454.78,338.90 460.80,342.30 466.82,348.20 472.85,349.80 478.87,350.20 484.89,349.60 490.91,347.20 496.94,344.70 502.96,344.70 508.98,344.50 515.01,340.10 521.03,337.90 527.05,335.10 533.07,334.00 539.10,333.70 545.12,335.10 551.14,332.50 557.17,335.10 563.19,336.50 569.21,327.70 575.24,331.70 581.26,336.70" stroke="#22be22" stroke-width="2.1" fill="none" stroke-linejoin="round"/>
<rect x="79.20" y="356.95" width="4.3" height="4.3" fill="#46d446" stroke="#084408" stroke-width="1.25"/>
<rect x="85.22" y="357.55" width="4.3" height="4.3" fill="#46d446" stroke="#084408" stroke-width="1.25"/>
<rect x="91.25" y="357.55" width="4.3" height="4.3" fill="#46d446" stroke="#084408" stroke-width="1.25"/>
<rect x="97.27" y="357.95" width="4.3" height="4.3" fill="#46d446" stroke="#084408" stroke-width="1.25"/>
<rect x="103.29" y="358.95" width="4.3" height="4.3" fill="#46d446" stroke="#084408" stroke-width="1.25"/>
<rect x="109.31" y="358.95" width="4.3" height="4.3" fill="#46d446" stroke="#084408" stroke-width="1.25"/>
<rect x="115.34" y="357.95" width="4.3" height="4.3" fill="#46d446" stroke="#084408" stroke-width="1.25"/>
<rect x="121.36" y="356.95" width="4.3" height="4.3" fill="#46d446" stroke="#084408" stroke-width="1.25"/>
<rect x="127.38" y="355.55" width="4.3" height="4.3" fill="#46d446" stroke="#084408" stroke-width="1.25"/>
<rect x="133.41" y="355.95" width="4.3" height="4.3" fill="#46d446" stroke="#084408" stroke-width="1.25"/>
<rect x="139.43" y="354.95" width="4.3" height="4.3" fill="#46d446" stroke="#084408" stroke-width="1.25"/>
<rect x="145.45" y="353.55" width="4.3" height="4.3" fill="#46d446" stroke="#084408" stroke-width="1.25"/>
<rect x="151.48" y="353.95" width="4.3" height="4.3" fill="#46d446" stroke="#084408" stroke-width="1.25"/>
<rect x="157.50" y="354.95" width="4.3" height="4.3" fill="#46d446" stroke="#084408" stroke-width="1.25"/>
<rect x="163.52" y="352.95" width="4.3" height="4.3" fill="#46d446" stroke="#084408" stroke-width="1.25"/>
<rect x="169.54" y="348.95" width="4.3" height="4.3" fill="#46d446" stroke="#084408" stroke-width="1.25"/>
<rect x="175.57" y="348.95" width="4.3" height="4.3" fill="#46d446" stroke="#084408" stroke-width="1.25"/>
<rect x="181.59" y="346.95" width="4.3" height="4.3" fill="#46d446" stroke="#084408" stroke-width="1.25"/>
<rect x="187.61" y="348.35" width="4.3" height="4.3" fill="#46d446" stroke="#084408" stroke-width="1.25"/>
<rect x="193.64" y="350.35" width="4.3" height="4.3" fill="#46d446" stroke="#084408" stroke-width="1.25"/>
<rect x="199.66" y="351.95" width="4.3" height="4.3" fill="#46d446" stroke="#084408" stroke-width="1.25"/>
<rect x="205.68" y="352.75" width="4.3" height="4.3" fill="#46d446" stroke="#084408" stroke-width="1.25"/>
<rect x="211.71" y="352.35" width="4.3" height="4.3" fill="#46d446" stroke="#084408" stroke-width="1.25"/>
<rect x="217.73" y="350.35" width="4.3" height="4.3" fill="#46d446" stroke="#084408" stroke-width="1.25"/>
<rect x="223.75" y="346.35" width="4.3" height="4.3" fill="#46d446" stroke="#084408" stroke-width="1.25"/>
<rect x="229.77" y="345.35" width="4.3" height="4.3" fill="#46d446" stroke="#084408" stroke-width="1.25"/>
<rect x="235.80" y="347.95" width="4.3" height="4.3" fill="#46d446" stroke="#084408" stroke-width="1.25"/>
<rect x="241.82" y="347.95" width="4.3" height="4.3" fill="#46d446" stroke="#084408" stroke-width="1.25"/>
<rect x="247.84" y="346.95" width="4.3" height="4.3" fill="#46d446" stroke="#084408" stroke-width="1.25"/>
<rect x="253.87" y="346.95" width="4.3" height="4.3" fill="#46d446" stroke="#084408" stroke-width="1.25"/>
<rect x="259.89" y="347.35" width="4.3" height="4.3" fill="#46d446" stroke="#084408" stroke-width="1.25"/>
<rect x="265.91" y="348.95" width="4.3" height="4.3" fill="#46d446" stroke="#084408" stroke-width="1.25"/>
<rect x="271.94" y="348.95" width="4.3" height="4.3" fill="#46d446" stroke="#084408" stroke-width="1.25"/>
<rect x="277.96" y="348.35" width="4.3" height="4.3" fill="#46d446" stroke="#084408" stroke-width="1.25"/>
<rect x="283.98" y="347.95" width="4.3" height="4.3" fill="#46d446" stroke="#084408" stroke-width="1.25"/>
<rect x="290.00" y="346.95" width="4.3" height="4.3" fill="#46d446" stroke="#084408" stroke-width="1.25"/>
<rect x="296.03" y="346.35" width="4.3" height="4.3" fill="#46d446" stroke="#084408" stroke-width="1.25"/>
<rect x="302.05" y="346.35" width="4.3" height="4.3" fill="#46d446" stroke="#084408" stroke-width="1.25"/>
<rect x="308.07" y="349.95" width="4.3" height="4.3" fill="#46d446" stroke="#084408" stroke-width="1.25"/>
<rect x="314.10" y="350.35" width="4.3" height="4.3" fill="#46d446" stroke="#084408" stroke-width="1.25"/>
<rect x="320.12" y="350.95" width="4.3" height="4.3" fill="#46d446" stroke="#084408" stroke-width="1.25"/>
<rect x="326.14" y="352.35" width="4.3" height="4.3" fill="#46d446" stroke="#084408" stroke-width="1.25"/>
<rect x="332.17" y="354.25" width="4.3" height="4.3" fill="#46d446" stroke="#084408" stroke-width="1.25"/>
<rect x="338.19" y="352.75" width="4.3" height="4.3" fill="#46d446" stroke="#084408" stroke-width="1.25"/>
<rect x="344.21" y="349.95" width="4.3" height="4.3" fill="#46d446" stroke="#084408" stroke-width="1.25"/>
<rect x="350.24" y="349.35" width="4.3" height="4.3" fill="#46d446" stroke="#084408" stroke-width="1.25"/>
<rect x="356.26" y="347.95" width="4.3" height="4.3" fill="#46d446" stroke="#084408" stroke-width="1.25"/>
<rect x="362.28" y="343.95" width="4.3" height="4.3" fill="#46d446" stroke="#084408" stroke-width="1.25"/>
<rect x="368.30" y="342.55" width="4.3" height="4.3" fill="#46d446" stroke="#084408" stroke-width="1.25"/>
<rect x="374.33" y="341.55" width="4.3" height="4.3" fill="#46d446" stroke="#084408" stroke-width="1.25"/>
<rect x="380.35" y="340.55" width="4.3" height="4.3" fill="#46d446" stroke="#084408" stroke-width="1.25"/>
<rect x="386.37" y="341.55" width="4.3" height="4.3" fill="#46d446" stroke="#084408" stroke-width="1.25"/>
<rect x="392.40" y="340.95" width="4.3" height="4.3" fill="#46d446" stroke="#084408" stroke-width="1.25"/>
<rect x="398.42" y="338.95" width="4.3" height="4.3" fill="#46d446" stroke="#084408" stroke-width="1.25"/>
<rect x="404.44" y="337.75" width="4.3" height="4.3" fill="#46d446" stroke="#084408" stroke-width="1.25"/>
<rect x="410.47" y="334.45" width="4.3" height="4.3" fill="#46d446" stroke="#084408" stroke-width="1.25"/>
<rect x="416.49" y="322.85" width="4.3" height="4.3" fill="#46d446" stroke="#084408" stroke-width="1.25"/>
<rect x="422.51" y="324.55" width="4.3" height="4.3" fill="#46d446" stroke="#084408" stroke-width="1.25"/>
<rect x="428.53" y="326.95" width="4.3" height="4.3" fill="#46d446" stroke="#084408" stroke-width="1.25"/>
<rect x="434.56" y="328.35" width="4.3" height="4.3" fill="#46d446" stroke="#084408" stroke-width="1.25"/>
<rect x="440.58" y="336.75" width="4.3" height="4.3" fill="#46d446" stroke="#084408" stroke-width="1.25"/>
<rect x="446.60" y="334.45" width="4.3" height="4.3" fill="#46d446" stroke="#084408" stroke-width="1.25"/>
<rect x="452.63" y="336.75" width="4.3" height="4.3" fill="#46d446" stroke="#084408" stroke-width="1.25"/>
<rect x="458.65" y="340.15" width="4.3" height="4.3" fill="#46d446" stroke="#084408" stroke-width="1.25"/>
<rect x="464.67" y="346.05" width="4.3" height="4.3" fill="#46d446" stroke="#084408" stroke-width="1.25"/>
<rect x="470.70" y="347.65" width="4.3" height="4.3" fill="#46d446" stroke="#084408" stroke-width="1.25"/>
<rect x="476.72" y="348.05" width="4.3" height="4.3" fill="#46d446" stroke="#084408" stroke-width="1.25"/>
<rect x="482.74" y="347.45" width="4.3" height="4.3" fill="#46d446" stroke="#084408" stroke-width="1.25"/>
<rect x="488.76" y="345.05" width="4.3" height="4.3" fill="#46d446" stroke="#084408" stroke-width="1.25"/>
<rect x="494.79" y="342.55" width="4.3" height="4.3" fill="#46d446" stroke="#084408" stroke-width="1.25"/>
<rect x="500.81" y="342.55" width="4.3" height="4.3" fill="#46d446" stroke="#084408" stroke-width="1.25"/>
<rect x="506.83" y="342.35" width="4.3" height="4.3" fill="#46d446" stroke="#084408" stroke-width="1.25"/>
<rect x="512.86" y="337.95" width="4.3" height="4.3" fill="#46d446" stroke="#084408" stroke-width="1.25"/>
<rect x="518.88" y="335.75" width="4.3" height="4.3" fill="#46d446" stroke="#084408" stroke-width="1.25"/>
<rect x="524.90" y="332.95" width="4.3" height="4.3" fill="#46d446" stroke="#084408" stroke-width="1.25"/>
<rect x="530.92" y="331.85" width="4.3" height="4.3" fill="#46d446" stroke="#084408" stroke-width="1.25"/>
<rect x="536.95" y="331.55" width="4.3" height="4.3" fill="#46d446" stroke="#084408" stroke-width="1.25"/>
<rect x="542.97" y="332.95" width="4.3" height="4.3" fill="#46d446" stroke="#084408" stroke-width="1.25"/>
<rect x="548.99" y="330.35" width="4.3" height="4.3" fill="#46d446" stroke="#084408" stroke-width="1.25"/>
<rect x="555.02" y="332.95" width="4.3" height="4.3" fill="#46d446" stroke="#084408" stroke-width="1.25"/>
<rect x="561.04" y="334.35" width="4.3" height="4.3" fill="#46d446" stroke="#084408" stroke-width="1.25"/>
<rect x="567.06" y="325.55" width="4.3" height="4.3" fill="#46d446" stroke="#084408" stroke-width="1.25"/>
<rect x="573.09" y="329.55" width="4.3" height="4.3" fill="#46d446" stroke="#084408" stroke-width="1.25"/>
<rect x="579.11" y="334.55" width="4.3" height="4.3" fill="#46d446" stroke="#084408" stroke-width="1.25"/>
<path d="M75.75 26.20V261.90M70.6 27.50H75.75M70.6 105.10H75.75M70.6 182.50H75.75M70.6 260.60H78.8M75.75 276.80V381.60M70.6 278.10H78.8M70.6 307.20H75.75M70.6 336.40H75.75M70.6 365.60H75.75M74.45 380.3H588.85M81.35 380.3V385.4M153.63 380.3V385.4M225.90 380.3V385.4M298.18 380.3V385.4M370.45 380.3V385.4M442.73 380.3V385.4M515.01 380.3V385.4M587.28 380.3V385.4M587.55 25.70V381.60M587.55 27.00H591.9M587.55 115.20H591.9M587.55 203.50H591.9M587.55 291.80H591.9M587.55 380.30H591.9" stroke="#000" stroke-width="2.6" fill="none"/>
<text transform="translate(40.42 32.75) rotate(0.03) scale(1.0100 1)" font-size="17.60" >200</text>
<text transform="translate(40.42 110.55) rotate(0.03) scale(1.0100 1)" font-size="17.60" >150</text>
<text transform="translate(40.42 187.95) rotate(0.03) scale(1.0100 1)" font-size="17.60" >100</text>
<text transform="translate(50.33 266.00) rotate(0.03) scale(1.0100 1)" font-size="17.60" >50</text>
<text transform="translate(50.33 283.15) rotate(0.03) scale(1.0100 1)" font-size="17.60" >10</text>
<text transform="translate(60.02 312.90) rotate(0.03) scale(1.0100 1)" font-size="17.60" >8</text>
<text transform="translate(60.11 342.70) rotate(0.03) scale(1.0100 1)" font-size="17.60" >6</text>
<text transform="translate(59.57 372.65) rotate(0.03) scale(1.0100 1)" font-size="17.60" >4</text>
<text transform="translate(593.80 32.95) rotate(0.03) scale(1.0000 1)" font-size="17.60" >4000</text>
<text transform="translate(593.80 121.13) rotate(0.03) scale(1.0000 1)" font-size="17.60" >3000</text>
<text transform="translate(593.80 209.45) rotate(0.03) scale(1.0000 1)" font-size="17.60" >2000</text>
<text transform="translate(593.80 297.75) rotate(0.03) scale(1.0000 1)" font-size="17.60" >1000</text>
<text transform="translate(593.80 385.55) rotate(0.03) scale(1.0000 1)" font-size="17.60" >0</text>
<text transform="translate(76.51 401.45) rotate(0.03) scale(0.9900 1)" font-size="17.60" >0</text>
<text transform="translate(143.98 401.45) rotate(0.03) scale(0.9900 1)" font-size="17.60" >60</text>
<text transform="translate(211.18 401.45) rotate(0.03) scale(0.9900 1)" font-size="17.60" >120</text>
<text transform="translate(283.45 401.45) rotate(0.03) scale(0.9900 1)" font-size="17.60" >180</text>
<text transform="translate(355.97 401.45) rotate(0.03) scale(0.9900 1)" font-size="17.60" >240</text>
<text transform="translate(428.36 401.43) rotate(0.03) scale(0.9900 1)" font-size="17.60" >300</text>
<text transform="translate(500.63 401.43) rotate(0.03) scale(0.9900 1)" font-size="17.60" >360</text>
<text transform="translate(572.67 401.45) rotate(0.03) scale(0.9900 1)" font-size="17.60" >420</text>
<text transform="translate(156.56 62.71) rotate(0.03) scale(0.9350 1)" font-size="17.40" >100 ppm</text>
<text transform="translate(300.23 62.71) rotate(0.03) scale(0.9350 1)" font-size="17.40" >200 ppm</text>
<text transform="translate(445.99 62.71) rotate(0.03) scale(0.9350 1)" font-size="17.40" >300 ppm</text>
<path d="M88.2 137.0H102" stroke="#e61e23" stroke-width="2" fill="none"/>
<g transform="translate(95.2 137.0) scale(1.15) translate(-95.2 -137.0)"><circle cx="95.20" cy="137.00" r="1.9" fill="#cf2020" stroke="#280000" stroke-width="1.4"/></g>
<text transform="translate(109.67 142.73) rotate(0.03) scale(0.9950 1)" font-size="17.70" >MAP</text>
<path d="M88.2 254.6H102" stroke="#1818b8" stroke-width="2" fill="none"/>
<path d="M95.20 251.55L98.30 257.65H92.10Z" fill="#0a0a46"/><path d="M95.20 254.42L96.18 256.35H94.22Z" fill="#e6e6fa"/>
<text transform="translate(109.67 260.08) rotate(0.03) scale(0.9950 1)" font-size="17.70" >SVR</text>
<path d="M88.2 331.0H102" stroke="#22be22" stroke-width="2" fill="none"/>
<g transform="translate(95.2 331.0) scale(1.15) translate(-95.2 -331.0)"><rect x="93.05" y="328.85" width="4.3" height="4.3" fill="#46d446" stroke="#084408" stroke-width="1.25"/></g>
<text transform="translate(109.67 336.98) rotate(0.03) scale(0.9950 1)" font-size="17.70" >CO</text>
<text transform="translate(31.70 215.69) rotate(-90) scale(1.0349 1)" font-size="24.21" >MAP [mmHg]</text>
<text transform="translate(31.80 386.97) rotate(-90) scale(0.9985 1)" font-size="24.34" >CO [L/min]</text>
<text transform="translate(615.95 397.45) rotate(0.03) scale(1.0471 1)" font-size="23.38" >[min]</text>
<text transform="translate(647.22 103.36) rotate(90) scale(1.0179 1)" font-size="24.18" >SVR [dyn</text>
<text transform="translate(647.2 212.1) rotate(90)" font-size="24.2">·</text>
<text transform="translate(647.18 218.30) rotate(90) scale(1.0609 1)" font-size="24.23" >s/cm</text>
<text transform="translate(659.36 275.73) rotate(90) scale(1.1683 1)" font-size="16.34" >5</text>
<text transform="translate(648.19 286.96) rotate(90) scale(1.0094 1)" font-size="26.92" >]</text>
</svg>
</body></html>
